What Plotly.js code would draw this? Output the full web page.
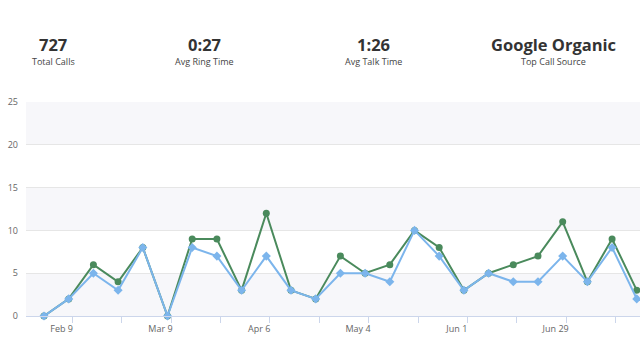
<!DOCTYPE html>
<html>
<head>
<meta charset="utf-8">
<script src="https://cdn.plot.ly/plotly-3.0.1.min.js"></script>
<style>
html,body{margin:0;padding:0;background:#fff;overflow:hidden;}
#chart{width:640px;height:352px;}
</style>
</head>
<body>
<div id="chart"></div>
<script>
// ---- data ----
const weeks = ["2015-02-04","2015-02-11","2015-02-18","2015-02-25","2015-03-04","2015-03-11","2015-03-18","2015-03-25",
  "2015-04-01","2015-04-08","2015-04-15","2015-04-22","2015-04-29","2015-05-06","2015-05-13","2015-05-20","2015-05-27",
  "2015-06-03","2015-06-10","2015-06-17","2015-06-24","2015-07-01","2015-07-08","2015-07-15","2015-07-22"];
const totalCalls  = [0,2,6,4,8,0,9,9,3,12,3,2,7,5,6,10,8,3,5,6,7,11,4,9,3];
const uniqueCalls = [0,2,5,3,8,0,8,7,3,7,3,2,5,5,4,10,7,3,5,4,4,7,4,8,2];
const statValues = ["727","0:27","1:26","Google Organic"];
const statLabels = ["Total Calls","Avg Ring Time","Avg Talk Time","Top Call Source"];
const yTicks = [0,5,10,15,20,25];

// ---- layout helpers ----
const W = 640, H = 352;
const M = {l:26, r:0, t:102, b:36};
const plotW = W - M.l - M.r, plotH = H - M.t - M.b;
const px2paperX = px => (px - M.l) / plotW;
const px2paperY = py => (H - M.b - py) / plotH;
const DAY = 864e5;
const t0 = Date.parse(weeks[0] + "T00:00:00Z");
const xRange = [t0 - 0.729*7*DAY, t0 + 24.13*7*DAY];

const statX = [53, 204, 373, 553];
const annotations = [];
statValues.forEach((v,i)=>{
  annotations.push({xref:'paper', yref:'paper', x:px2paperX(statX[i]), y:px2paperY(44),
    text:v, showarrow:false, xanchor:'center', yanchor:'middle',
    font:{family:'Open Sans', size:16.5, color:'#333', weight:700}});
  annotations.push({xref:'paper', yref:'paper', x:px2paperX(statX[i]), y:px2paperY(62),
    text:statLabels[i], showarrow:false, xanchor:'center', yanchor:'middle',
    font:{family:'Open Sans', size:9, color:'#444'}});
});

// alternate bands (0-5, 10-15, 20-25)
const shapes = [];
for (let k = 0; k < yTicks.length - 1; k += 2) {
  shapes.push({type:'rect', xref:'paper', yref:'y', x0:0, x1:1, y0:yTicks[k], y1:yTicks[k+1],
    fillcolor:'#f7f7fa', line:{width:0}, layer:'below'});
}

const traces = [
  {x:weeks, y:totalCalls, type:'scatter', mode:'lines+markers', name:'Total',
   line:{color:'#4a8a5c', width:2}, marker:{symbol:'circle', size:7, color:'#4a8a5c'}, cliponaxis:false},
  {x:weeks, y:uniqueCalls, type:'scatter', mode:'lines+markers', name:'Unique',
   line:{color:'#7cb5ec', width:2}, marker:{symbol:'diamond', size:7, color:'#7cb5ec'}, cliponaxis:false}
];

const layout = {
  width:W, height:H, margin:M, showlegend:false,
  paper_bgcolor:'#fff', plot_bgcolor:'#fff',
  font:{family:'Open Sans', color:'#666'},
  xaxis:{type:'date', range:xRange, tick0:'2015-02-09', dtick:28*DAY, tickformat:'%b %-d',
    ticks:'outside', ticklen:4, tickcolor:'rgba(0,0,0,0)', showgrid:false, zeroline:false,
    showline:true, linecolor:'#ccd6eb', linewidth:1,
    tickfont:{family:'Open Sans', size:9, color:'#666'},
    minor:{ticks:'outside', ticklen:6, tickcolor:'#ccd6eb', tick0:'2015-02-12', dtick:14*DAY, showgrid:false}},
  yaxis:{range:[0,25], tickvals:yTicks, showgrid:true, gridcolor:'#e6e6e6', zeroline:false,
    showline:false, ticks:'', ticklabelstandoff:7, tickfont:{family:'Open Sans', size:9, color:'#666'}, fixedrange:true},
  shapes:shapes, annotations:annotations
};

Plotly.newPlot('chart', traces, layout, {displayModeBar:false, staticPlot:true});
</script>
</body>
</html>
